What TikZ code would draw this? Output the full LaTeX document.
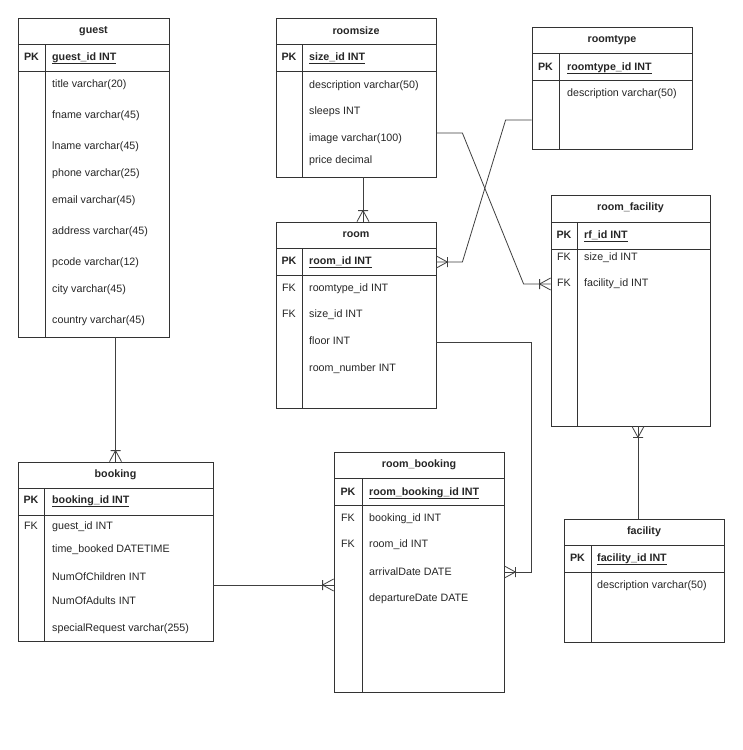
\documentclass[tikz,border=0pt]{standalone}
\usepackage{fontspec}
\setmainfont{Liberation Sans}
\usepackage{tikz}

% one-or-many end (bar + crow's foot)
\pgfdeclarearrow{
  name = crow,
  setup code = {
    \pgfarrowssettipend{0pt}
    \pgfarrowssetlineend{0pt}
    \pgfarrowssetbackend{-11pt}
    \pgfarrowsupperhullpoint{-11pt}{6pt}
    \pgfarrowsupperhullpoint{0pt}{6pt}
  },
  drawing code = {
    \pgfsetdash{}{0pt}
    \pgfpathmoveto{\pgfqpoint{0pt}{6pt}}
    \pgfpathlineto{\pgfqpoint{-11pt}{0pt}}
    \pgfpathlineto{\pgfqpoint{0pt}{-6pt}}
    \pgfpathmoveto{\pgfqpoint{-11pt}{5pt}}
    \pgfpathlineto{\pgfqpoint{-11pt}{-5pt}}
    \pgfusepathqstroke
  }
}

\begin{document}
\begin{tikzpicture}[x=1pt, y=-1pt,
  every node/.style={font=\fontsize{10.7}{13}\selectfont, text=black!85},
  tbl/.style={draw=black!80, line width=0.8pt, inner sep=0pt},
  ttl/.style={font=\fontsize{10.7}{13}\selectfont\bfseries},
  key/.style={inner sep=0pt, text height=8pt, text depth=2pt},
  fld/.style={anchor=west, inner sep=0pt, text height=8pt, text depth=2pt},
  sep/.style={draw=black!80, line width=0.8pt},
  rel/.style={draw=black!75, line width=0.8pt, -crow}]
  \fill[white] (0,0) rectangle (742,750);
  \useasboundingbox (0,0) rectangle (742,750);

  % guest
  \node[tbl, minimum width=151, minimum height=319] (guest) at (93.5,177.5) {};
  \draw[sep] (18,44) -- (169,44) (18,71) -- (169,71) (45,44) -- (45,337);
  \node[ttl] (guest-t) at (93.5,31) {guest};
  \node[key] (guest-k0) at (31.5,57) {\textbf{PK}};
  \node[fld] (guest-f0) at (52,57) {\textbf{\underline{guest\_id INT}}};
  \node[fld] (guest-f1) at (52,84) {title varchar(20)};
  \node[fld] (guest-f2) at (52,115) {fname varchar(45)};
  \node[fld] (guest-f3) at (52,146) {lname varchar(45)};
  \node[fld] (guest-f4) at (52,173) {phone varchar(25)};
  \node[fld] (guest-f5) at (52,200) {email varchar(45)};
  \node[fld] (guest-f6) at (52,231) {address varchar(45)};
  \node[fld] (guest-f7) at (52,262) {pcode varchar(12)};
  \node[fld] (guest-f8) at (52,289) {city varchar(45)};
  \node[fld] (guest-f9) at (52,320) {country varchar(45)};

  % roomsize
  \node[tbl, minimum width=160, minimum height=159] (roomsize) at (356,97.5) {};
  \draw[sep] (276,44) -- (436,44) (276,71) -- (436,71) (302,44) -- (302,177);
  \node[ttl] (roomsize-t) at (356,31) {roomsize};
  \node[key] (roomsize-k0) at (289,57) {\textbf{PK}};
  \node[fld] (roomsize-f0) at (309,57) {\textbf{\underline{size\_id INT}}};
  \node[fld] (roomsize-f1) at (309,85) {description varchar(50)};
  \node[fld] (roomsize-f2) at (309,111) {sleeps INT};
  \node[fld] (roomsize-f3) at (309,138) {image varchar(100)};
  \node[fld] (roomsize-f4) at (309,160) {price decimal};

  % roomtype
  \node[tbl, minimum width=160, minimum height=122] (roomtype) at (612,88) {};
  \draw[sep] (532,53) -- (692,53) (532,80) -- (692,80) (559,53) -- (559,149);
  \node[ttl] (roomtype-t) at (612,40) {roomtype};
  \node[key] (roomtype-k0) at (545.5,67) {\textbf{PK}};
  \node[fld] (roomtype-f0) at (567,67) {\textbf{\underline{roomtype\_id INT}}};
  \node[fld] (roomtype-f1) at (567,93) {description varchar(50)};

  % room
  \node[tbl, minimum width=160, minimum height=186] (room) at (356,315) {};
  \draw[sep] (276,248) -- (436,248) (276,275) -- (436,275) (302,248) -- (302,408);
  \node[ttl] (room-t) at (356,235) {room};
  \node[key] (room-k0) at (289,261) {\textbf{PK}};
  \node[fld] (room-f0) at (309,261) {\textbf{\underline{room\_id INT}}};
  \node[key] (room-k1) at (289,288) {FK};
  \node[fld] (room-f1) at (309,288) {roomtype\_id INT};
  \node[key] (room-k2) at (289,314) {FK};
  \node[fld] (room-f2) at (309,314) {size\_id INT};
  \node[fld] (room-f3) at (309,341) {floor INT};
  \node[fld] (room-f4) at (309,368) {room\_number INT};

  % room_facility
  \node[tbl, minimum width=159, minimum height=231] (roomfac) at (630.5,310.5) {};
  \draw[sep] (551,222) -- (710,222) (551,249) -- (710,249) (577,222) -- (577,426);
  \node[ttl] (roomfac-t) at (630.5,208) {room\_facility};
  \node[key] (roomfac-k0) at (564,235) {\textbf{PK}};
  \node[fld] (roomfac-f0) at (584,235) {\textbf{\underline{rf\_id INT}}};
  \node[key] (roomfac-k1) at (564,257) {FK};
  \node[fld] (roomfac-f1) at (584,257) {size\_id INT};
  \node[key] (roomfac-k2) at (564,283) {FK};
  \node[fld] (roomfac-f2) at (584,283) {facility\_id INT};

  % booking
  \node[tbl, minimum width=195, minimum height=179] (booking) at (115.5,551.5) {};
  \draw[sep] (18,488) -- (213,488) (18,515) -- (213,515) (44,488) -- (44,641);
  \node[ttl] (booking-t) at (115.5,475) {booking};
  \node[key] (booking-k0) at (31,500) {\textbf{PK}};
  \node[fld] (booking-f0) at (52,500) {\textbf{\underline{booking\_id INT}}};
  \node[key] (booking-k1) at (31,526) {FK};
  \node[fld] (booking-f1) at (52,526) {guest\_id INT};
  \node[fld] (booking-f2) at (52,549) {time\_booked DATETIME};
  \node[fld] (booking-f3) at (52,577) {NumOfChildren INT};
  \node[fld] (booking-f4) at (52,601) {NumOfAdults INT};
  \node[fld] (booking-f5) at (52,628) {specialRequest varchar(255)};

  % room_booking
  \node[tbl, minimum width=170, minimum height=240] (roombk) at (419,572) {};
  \draw[sep] (334,478) -- (504,478) (334,505) -- (504,505) (362,478) -- (362,692);
  \node[ttl] (roombk-t) at (419,465) {room\_booking};
  \node[key] (roombk-k0) at (348,492) {\textbf{PK}};
  \node[fld] (roombk-f0) at (369,492) {\textbf{\underline{room\_booking\_id INT}}};
  \node[key] (roombk-k1) at (348,518) {FK};
  \node[fld] (roombk-f1) at (369,518) {booking\_id INT};
  \node[key] (roombk-k2) at (348,544) {FK};
  \node[fld] (roombk-f2) at (369,544) {room\_id INT};
  \node[fld] (roombk-f3) at (369,572) {arrivalDate DATE};
  \node[fld] (roombk-f4) at (369,598) {departureDate DATE};

  % facility
  \node[tbl, minimum width=160, minimum height=123] (facility) at (644,580.5) {};
  \draw[sep] (564,545) -- (724,545) (564,572) -- (724,572) (591,545) -- (591,642);
  \node[ttl] (facility-t) at (644,532) {facility};
  \node[key] (facility-k0) at (577.5,558) {\textbf{PK}};
  \node[fld] (facility-f0) at (597,558) {\textbf{\underline{facility\_id INT}}};
  \node[fld] (facility-f1) at (597,585) {description varchar(50)};

  % relations
  \draw[rel] (booking.north |- guest.south) -- (booking.north);
  \draw[rel] ([xshift=7pt]roomsize.south) -- ([xshift=7pt]room.north);
  \draw[rel] ([yshift=-35.5pt]roomsize.east) -- ++(26,0) -- ([xshift=-27pt,yshift=26.5pt]roomfac.west) -- ([yshift=26.5pt]roomfac.west);
  \draw[rel] ([yshift=-32pt]roomtype.west) -- ++(-26,0) -- ([xshift=26pt,yshift=53pt]room.east) -- ([yshift=53pt]room.east);
  \draw[rel] ([yshift=-27pt]room.east) -| ([xshift=27pt]roombk.east) -- (roombk.east);
  \draw[rel] ([yshift=-33.5pt]booking.east) coordinate (bk-out) -- (bk-out -| roombk.west);
  \draw[rel] ([xshift=-6pt]facility.north) -- ([xshift=7.5pt]roomfac.south);
\end{tikzpicture}
\end{document}
